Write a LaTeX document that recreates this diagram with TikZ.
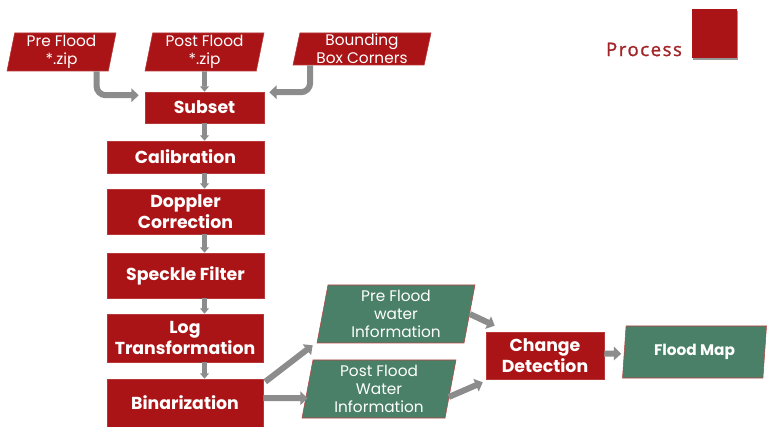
\documentclass[tikz,border=0pt]{standalone}
\usepackage{fontspec}
\setmainfont{Poppins}
\newfontfamily\titlefont[LetterSpace=8,FakeBold=1.2]{Open Sans}
\usetikzlibrary{shapes.geometric,arrows.meta,calc,shadows}

\definecolor{boxred}{RGB}{170,20,22}
\definecolor{boxgreen}{RGB}{74,128,104}
\definecolor{arrowgray}{RGB}{140,140,140}
\definecolor{titlered}{RGB}{160,36,40}

\tikzset{
  stepbox/.style={rectangle, fill=boxred, draw=boxred!85!white, line width=0.4pt, inner sep=0pt, text=white, align=center, font=\fontsize{13}{16}\selectfont\bfseries},
  databox/.style={trapezium, trapezium left angle=77, trapezium right angle=103, trapezium stretches body, fill=boxred, draw=boxred!85!white, line width=0.4pt, inner sep=0pt, text=white, align=center, font=\fontsize{11.5}{13.5}\selectfont},
  waterbox/.style={databox, fill=boxgreen, draw=boxred!80!white},
  flowarrow/.style={draw=arrowgray, line width=4.5pt, -{Triangle[width=10pt,length=5.5pt]}},
  thinarrow/.style={draw=arrowgray, line width=3.4pt, -{Triangle[width=6.5pt,length=4pt]}},
}

\begin{document}
\begin{tikzpicture}[x=0.75pt,y=0.75pt,yscale=-1,xscale=1]
\useasboundingbox (0,0) rectangle (767,427);

%Shape: Parallelogram (inputs)
\node (pre)  at (61.5,52)  [databox, minimum width=81.75pt, minimum height=28.5pt] {Pre Flood\\*.zip};
\node (post) at (204.5,52) [databox, minimum width=89.25pt, minimum height=28.5pt] {Post Flood\\*.zip};
\node (bbox) at (362,49)   [databox, minimum width=103.5pt, minimum height=24pt] {Bounding\\Box Corners};

%Shape: Rectangle (processing steps)
\node (subset)  at (204.5,107.5) [stepbox, minimum width=89.25pt, minimum height=23.25pt] {Subset};
\node (calib)   at (185.5,157)   [stepbox, minimum width=117.75pt, minimum height=24pt] {Calibration};
\node (doppler) at (185.5,211.5) [stepbox, minimum width=117.75pt, minimum height=33.75pt] {Doppler\\Correction};
\node (speckle) at (185.5,275.5) [stepbox, minimum width=117.75pt, minimum height=33.75pt] {Speckle Filter};
\node (logt)    at (185,338)     [stepbox, minimum width=117pt, minimum height=36pt] {Log\\Transformation};
\node (binar)   at (185,403)     [stepbox, minimum width=117pt, minimum height=36pt] {Binarization};

%Shape: Parallelogram (water layers)
\node (prew)  at (396,314) [waterbox, minimum width=118.5pt, minimum height=43.5pt] {Pre Flood\\water\\Information};
\node (postw) at (379,389) [waterbox, minimum width=115.5pt, minimum height=43.5pt] {Post Flood\\Water\\Information};

\node (change)   at (545,355.5) [stepbox, minimum width=88.5pt, minimum height=35.25pt] {Change\\Detection};
\node (floodmap) at (694.5,352) [waterbox, minimum width=108pt, minimum height=39pt, font=\fontsize{11.5}{13.5}\selectfont\bfseries] {Flood Map};

%Shape: Legend
\node (logo)  at (714.5,33.5) [fill=boxred, minimum width=33.75pt, minimum height=36.75pt, inner sep=0pt, drop shadow={shadow xshift=0.5pt, shadow yshift=-1.5pt, fill=black!45, opacity=0.9}] {};
\node (title) at (644,49.5) [text=titlered, font=\titlefont\fontsize{14}{16}\selectfont] {Process};

%Straight Lines
\draw [flowarrow, rounded corners=7pt] ($(pre.bottom right corner)+(-12,0)$) |- ($(subset.north west)+(-6,3.5)$);
\draw [thinarrow] (post.south) -- (subset.north);
\draw [flowarrow, rounded corners=7pt] ($(bbox.bottom left corner)+(17.5,0)$) |- ($(subset.north east)+(5,0.5)$);

\draw [thinarrow] (subset.south) -- (calib.north -| subset.south);
\draw [thinarrow] (calib.south -| subset.south) -- (doppler.north -| subset.south);
\draw [thinarrow] (doppler.south -| subset.south) -- (speckle.north -| subset.south);
\draw [thinarrow] (speckle.south -| subset.south) -- (logt.north -| subset.south);
\draw [thinarrow] (logt.south -| subset.south) -- (binar.north -| subset.south);

\draw [flowarrow] ($(binar.north east)+(2,3)$) -- ($(prew.bottom left corner)+(-4,2)$);
\draw [flowarrow] ($(binar.east)+(0,-5)$) -- ($(postw.bottom left corner)+(6,-20)$);
\draw [flowarrow] (prew.east) -- ($(change.north west)+(9,-6)$);
\draw [flowarrow] ($(postw.east)+(-2,8)$) -- ($(change.south west)+(-3,3)$);
\draw [flowarrow] ($(change.east)+(0,-2)$) -- ($(floodmap.bottom left corner)+(-1,-24.5)$);

\end{tikzpicture}
\end{document}
